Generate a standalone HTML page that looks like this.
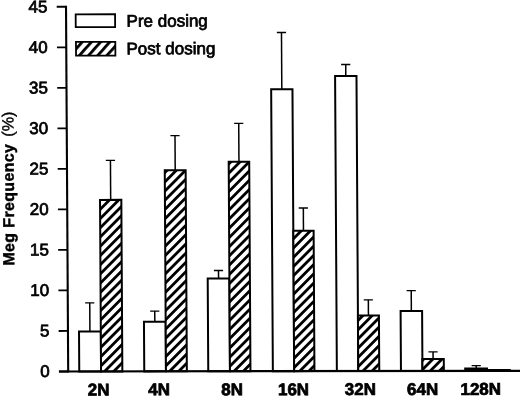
<!DOCTYPE html>
<html><head><meta charset="utf-8"><style>
html,body{margin:0;padding:0;background:#fff;width:520px;height:397px;overflow:hidden}
svg{display:block}
text{font-family:"Liberation Sans",sans-serif;fill:#000;stroke:#000;stroke-width:0.75}
svg{filter:grayscale(1)}
</style></head><body>
<svg width="520" height="397" viewBox="0 0 520 397">
<defs>
<pattern id="h0" patternUnits="userSpaceOnUse" width="6.5" height="20" patternTransform="translate(101.06,373.00) rotate(45)"><rect x="0" y="0" width="2.8" height="20" fill="#000"/></pattern>
<pattern id="h1" patternUnits="userSpaceOnUse" width="6.5" height="20" patternTransform="translate(165.96,373.10) rotate(45)"><rect x="0" y="0" width="2.8" height="20" fill="#000"/></pattern>
<pattern id="h2" patternUnits="userSpaceOnUse" width="6.5" height="20" patternTransform="translate(229.96,373.70) rotate(45)"><rect x="0" y="0" width="2.8" height="20" fill="#000"/></pattern>
<pattern id="h3" patternUnits="userSpaceOnUse" width="6.5" height="20" patternTransform="translate(294.16,375.10) rotate(45)"><rect x="0" y="0" width="2.8" height="20" fill="#000"/></pattern>
<pattern id="h4" patternUnits="userSpaceOnUse" width="6.5" height="20" patternTransform="translate(358.26,374.20) rotate(45)"><rect x="0" y="0" width="2.8" height="20" fill="#000"/></pattern>
<pattern id="h5" patternUnits="userSpaceOnUse" width="6.5" height="20" patternTransform="translate(422.46,368.20) rotate(45)"><rect x="0" y="0" width="2.8" height="20" fill="#000"/></pattern>
<pattern id="h6" patternUnits="userSpaceOnUse" width="6.5" height="20" patternTransform="translate(486.66,371.50) rotate(45)"><rect x="0" y="0" width="2.8" height="20" fill="#000"/></pattern>
<pattern id="h7" patternUnits="userSpaceOnUse" width="6.84" height="20" patternTransform="translate(77.94,57.09) rotate(42)"><rect x="0" y="0" width="2.8" height="20" fill="#000"/></pattern>
</defs>

<g transform="matrix(1,-0.0015,0.006,1,-2.229,0.09)">
<line x1="68.2" y1="5.8" x2="68.2" y2="372.5" stroke="#000" stroke-width="2.1"/>
<line x1="58.9" y1="371.50" x2="68" y2="371.50" stroke="#000" stroke-width="1.8"/>
<text x="49.6" y="377.10" font-size="17" text-anchor="end">0</text>
<line x1="58.9" y1="330.98" x2="68" y2="330.98" stroke="#000" stroke-width="1.8"/>
<text x="49.6" y="336.58" font-size="17" text-anchor="end">5</text>
<line x1="58.9" y1="290.45" x2="68" y2="290.45" stroke="#000" stroke-width="1.8"/>
<text x="49.6" y="296.05" font-size="17" text-anchor="end">10</text>
<line x1="58.9" y1="249.93" x2="68" y2="249.93" stroke="#000" stroke-width="1.8"/>
<text x="49.6" y="255.53" font-size="17" text-anchor="end">15</text>
<line x1="58.9" y1="209.40" x2="68" y2="209.40" stroke="#000" stroke-width="1.8"/>
<text x="49.6" y="215.00" font-size="17" text-anchor="end">20</text>
<line x1="58.9" y1="168.88" x2="68" y2="168.88" stroke="#000" stroke-width="1.8"/>
<text x="49.6" y="174.47" font-size="17" text-anchor="end">25</text>
<line x1="58.9" y1="128.35" x2="68" y2="128.35" stroke="#000" stroke-width="1.8"/>
<text x="49.6" y="133.95" font-size="17" text-anchor="end">30</text>
<line x1="58.9" y1="87.82" x2="68" y2="87.82" stroke="#000" stroke-width="1.8"/>
<text x="49.6" y="93.42" font-size="17" text-anchor="end">35</text>
<line x1="58.9" y1="47.30" x2="68" y2="47.30" stroke="#000" stroke-width="1.8"/>
<text x="49.6" y="52.90" font-size="17" text-anchor="end">40</text>
<line x1="58.9" y1="6.77" x2="68" y2="6.77" stroke="#000" stroke-width="1.8"/>
<text x="49.6" y="12.37" font-size="17" text-anchor="end">45</text>
<rect x="79.26" y="331.44" width="21.80" height="40.06" fill="#fff" stroke="#000" stroke-width="2"/>
<rect x="101.06" y="199.97" width="21.30" height="171.53" fill="#fff" stroke="none"/>
<rect x="101.06" y="199.97" width="21.30" height="171.53" fill="url(#h0)" stroke="#000" stroke-width="2"/>
<line x1="90.16" y1="331.44" x2="90.16" y2="302.94" stroke="#000" stroke-width="1.5"/>
<line x1="85.56" y1="302.94" x2="94.76" y2="302.94" stroke="#000" stroke-width="1.3"/>
<line x1="111.71" y1="199.97" x2="111.71" y2="160.37" stroke="#000" stroke-width="1.5"/>
<line x1="107.11" y1="160.37" x2="116.31" y2="160.37" stroke="#000" stroke-width="1.3"/>
<text x="98.50" y="395.5" font-size="17" font-weight="bold" text-anchor="middle" stroke-width="0.45">2N</text>
<rect x="144.26" y="321.79" width="21.70" height="49.71" fill="#fff" stroke="#000" stroke-width="2"/>
<rect x="165.96" y="170.42" width="20.90" height="201.08" fill="#fff" stroke="none"/>
<rect x="165.96" y="170.42" width="20.90" height="201.08" fill="url(#h1)" stroke="#000" stroke-width="2"/>
<line x1="155.11" y1="321.79" x2="155.11" y2="311.24" stroke="#000" stroke-width="1.5"/>
<line x1="150.51" y1="311.24" x2="159.71" y2="311.24" stroke="#000" stroke-width="1.3"/>
<line x1="176.41" y1="170.42" x2="176.41" y2="135.87" stroke="#000" stroke-width="1.5"/>
<line x1="171.81" y1="135.87" x2="181.01" y2="135.87" stroke="#000" stroke-width="1.3"/>
<text x="159.10" y="395.5" font-size="17" font-weight="bold" text-anchor="middle" stroke-width="0.45">4N</text>
<rect x="208.26" y="278.84" width="21.70" height="92.66" fill="#fff" stroke="#000" stroke-width="2"/>
<rect x="229.96" y="161.92" width="20.50" height="209.58" fill="#fff" stroke="none"/>
<rect x="229.96" y="161.92" width="20.50" height="209.58" fill="url(#h2)" stroke="#000" stroke-width="2"/>
<line x1="219.11" y1="278.84" x2="219.11" y2="270.74" stroke="#000" stroke-width="1.5"/>
<line x1="214.51" y1="270.74" x2="223.71" y2="270.74" stroke="#000" stroke-width="1.3"/>
<line x1="240.21" y1="161.92" x2="240.21" y2="123.67" stroke="#000" stroke-width="1.5"/>
<line x1="235.61" y1="123.67" x2="244.81" y2="123.67" stroke="#000" stroke-width="1.3"/>
<text x="231.90" y="395.5" font-size="17" font-weight="bold" text-anchor="middle" stroke-width="0.45">8N</text>
<rect x="272.86" y="89.53" width="21.30" height="281.97" fill="#fff" stroke="#000" stroke-width="2"/>
<rect x="294.16" y="231.11" width="20.30" height="140.39" fill="#fff" stroke="none"/>
<rect x="294.16" y="231.11" width="20.30" height="140.39" fill="url(#h3)" stroke="#000" stroke-width="2"/>
<line x1="283.51" y1="89.53" x2="283.51" y2="32.83" stroke="#000" stroke-width="1.5"/>
<line x1="278.91" y1="32.83" x2="288.11" y2="32.83" stroke="#000" stroke-width="1.3"/>
<line x1="304.31" y1="231.11" x2="304.31" y2="208.36" stroke="#000" stroke-width="1.5"/>
<line x1="299.71" y1="208.36" x2="308.91" y2="208.36" stroke="#000" stroke-width="1.3"/>
<text x="293.40" y="395.5" font-size="17" font-weight="bold" text-anchor="middle" stroke-width="0.45">16N</text>
<rect x="336.86" y="76.38" width="21.40" height="295.12" fill="#fff" stroke="#000" stroke-width="2"/>
<rect x="358.26" y="316.01" width="21.00" height="55.49" fill="#fff" stroke="none"/>
<rect x="358.26" y="316.01" width="21.00" height="55.49" fill="url(#h4)" stroke="#000" stroke-width="2"/>
<line x1="347.56" y1="76.38" x2="347.56" y2="64.93" stroke="#000" stroke-width="1.5"/>
<line x1="342.96" y1="64.93" x2="352.16" y2="64.93" stroke="#000" stroke-width="1.3"/>
<line x1="368.76" y1="316.01" x2="368.76" y2="300.26" stroke="#000" stroke-width="1.5"/>
<line x1="364.16" y1="300.26" x2="373.36" y2="300.26" stroke="#000" stroke-width="1.3"/>
<text x="360.30" y="395.5" font-size="17" font-weight="bold" text-anchor="middle" stroke-width="0.45">32N</text>
<rect x="400.96" y="311.48" width="21.50" height="60.02" fill="#fff" stroke="#000" stroke-width="2"/>
<rect x="422.46" y="359.46" width="21.40" height="12.04" fill="#fff" stroke="none"/>
<rect x="422.46" y="359.46" width="21.40" height="12.04" fill="url(#h5)" stroke="#000" stroke-width="2"/>
<line x1="411.71" y1="311.48" x2="411.71" y2="291.13" stroke="#000" stroke-width="1.5"/>
<line x1="407.11" y1="291.13" x2="416.31" y2="291.13" stroke="#000" stroke-width="1.3"/>
<line x1="433.16" y1="359.46" x2="433.16" y2="352.46" stroke="#000" stroke-width="1.5"/>
<line x1="428.56" y1="352.46" x2="437.76" y2="352.46" stroke="#000" stroke-width="1.3"/>
<text x="422.50" y="395.5" font-size="17" font-weight="bold" text-anchor="middle" stroke-width="0.45">64N</text>
<rect x="464.20" y="368.22" width="23.80" height="3.28" fill="#000"/>
<rect x="488.00" y="369.65" width="22.80" height="1.85" fill="#000"/>
<line x1="476.25" y1="368.62" x2="476.25" y2="366.22" stroke="#000" stroke-width="1.5"/>
<line x1="471.65" y1="366.22" x2="480.85" y2="366.22" stroke="#000" stroke-width="1.3"/>
<text x="480.60" y="395.5" font-size="17" font-weight="bold" text-anchor="middle" stroke-width="0.45">128N</text>
<line x1="59" y1="371.5" x2="523" y2="371.5" stroke="#000" stroke-width="2.2"/>
<rect x="77.81" y="14.35" width="39.4" height="12.85" fill="#fff" stroke="#000" stroke-width="1.8"/>
<rect x="77.94" y="42" width="39.35" height="13.7" fill="#fff"/>
<rect x="77.94" y="42" width="39.35" height="13.7" fill="url(#h7)" stroke="#000" stroke-width="1.8"/>
<text x="128.61" y="26.8" font-size="17">Pre dosing</text>
<text x="128.44" y="54.5" font-size="17">Post dosing</text>
<text transform="translate(15.01,265.50) rotate(-90)" font-size="16"><tspan font-weight="bold" stroke-width="0.45" letter-spacing="0.35">Meg Frequency</tspan><tspan dx="6.9" font-size="16.2" stroke-width="0.4">(%)</tspan></text>
</g></svg></body></html>
